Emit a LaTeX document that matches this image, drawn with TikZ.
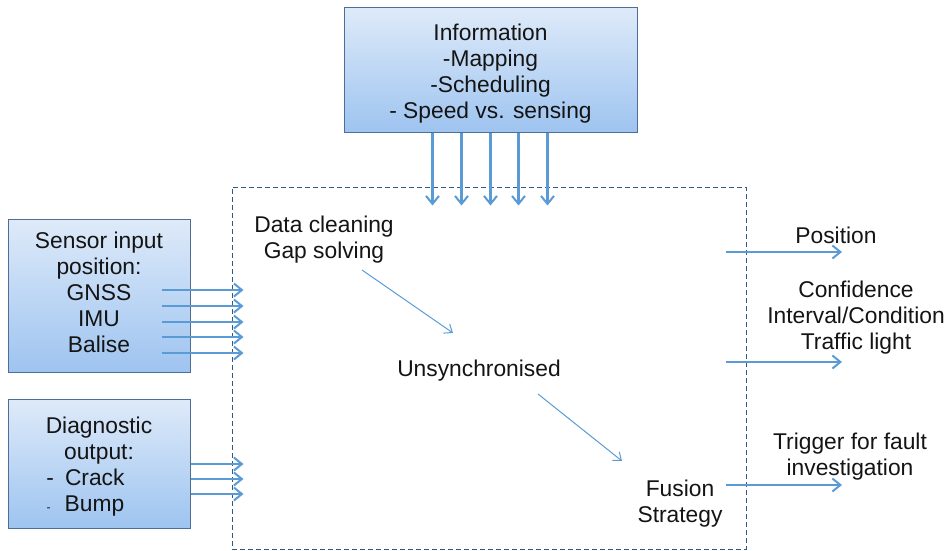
\documentclass[tikz,border=0pt]{standalone}
\usepackage{fontspec}
\setmainfont{Liberation Sans}
\usepackage{tikz}
\usetikzlibrary{arrows.meta}
\definecolor{arrowblue}{RGB}{91,155,213}
\definecolor{boxtop}{RGB}{222,234,249}
\definecolor{boxbot}{RGB}{158,196,240}
\definecolor{boxline}{RGB}{78,110,150}
\definecolor{frameline}{RGB}{47,90,133}
\definecolor{txt}{RGB}{20,20,20}
\begin{document}
\begin{tikzpicture}[x=1pt,y=-1pt,
  font=\fontsize{22.8}{26}\selectfont, text=txt,
  infobox/.style={draw=boxline, line width=1pt, top color=boxtop, bottom color=boxbot, inner sep=0pt},
  thickarrow/.style={arrowblue, line width=2.2pt, -{Straight Barb[length=8pt,width=13pt,line width=2pt]}},
  thinarrow/.style={arrowblue, line width=1pt, -{Straight Barb[length=7pt,width=11pt,line width=1pt]}},
  txtnode/.style={align=center, inner sep=0pt}]
\useasboundingbox (0,0) rectangle (950,551);
% boxes
\node [infobox, minimum width=293, minimum height=124,
  label={[txtnode, yshift=-4pt]center:{Information\\-Mapping\\-Scheduling\\- Speed vs. sensing}}] (info) at (490.5,70) {};
\node [infobox, minimum width=182, minimum height=153,
  label={[txtnode, yshift=3pt]center:{Sensor input\\position:\\GNSS\\IMU\\Balise}}] (sensor) at (99,295.5) {};
\node [infobox, minimum width=182, minimum height=129,
  label={[txtnode, yshift=-3pt]center:{Diagnostic\\output:\\-\hspace{11pt}Crack\rule{27pt}{0pt}\\{\fontsize{12}{12}\selectfont -}\hspace{14pt}Bump\rule{27pt}{0pt}}}] (diag) at (99,463.5) {};
\node [draw=frameline, dash pattern=on 5pt off 3pt, line width=1pt, minimum width=514, minimum height=362, inner sep=0pt] (core) at (489,368) {};
% texts inside
\node [txtnode] (clean) at (324,240) {Data cleaning\\Gap solving};
\node [txtnode] (unsync) at (479,371) {Unsynchronised};
\node [txtnode] (fusion) at (680,504) {Fusion\\Strategy};
% texts right
\node [txtnode] (pos) at (836,235) {Position};
\node [txtnode] (conf) at (856,318) {Confidence\\Interval/Condition\\Traffic light};
\node [txtnode] (trig) at (850,457) {Trigger for fault\\investigation};
% arrows in
\foreach \dx in {-58,-29,0,28,57}
  \draw [thickarrow] ([xshift=\dx pt]info.south) -- ([xshift=\dx pt, yshift=-19pt]info.south |- core.north);
\foreach \dy [count=\i] in {5.5,-10.5,-26.5,-41.5,-57.5} {
  \coordinate (s\i) at ([yshift=\dy pt]sensor.east);
  \draw [thickarrow] ([xshift=-29pt]s\i) -- ([xshift=12pt]core.west |- s\i);
}
\foreach \dy [count=\i] in {-0.5,-15.5,-30.5} {
  \coordinate (d\i) at ([yshift=\dy pt]diag.east);
  \draw [thickarrow] (d\i) -- ([xshift=12pt]core.west |- d\i);
}
% flow
\draw [thinarrow] ([shift={(38,30)}]clean.center) -- ([shift={(-26,-38)}]unsync.center);
\draw [thinarrow] ([shift={(59,23)}]unsync.center) -- ([shift={(-58,-43)}]fusion.center);
% arrows out
\coordinate (o1) at (842,252);
\coordinate (o2) at (842,362);
\coordinate (o3) at (842,485);
\foreach \o in {o1,o2,o3}
  \draw [thickarrow, line width=2pt] ([xshift=-21pt]core.east |- \o) -- (\o);
\end{tikzpicture}
\end{document}
